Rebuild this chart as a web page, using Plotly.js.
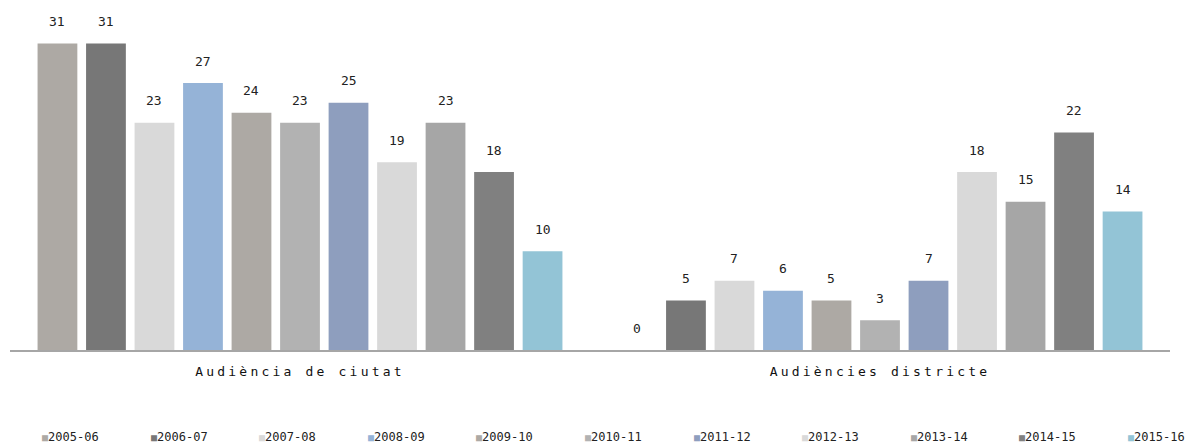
<!DOCTYPE html>
<html><head><meta charset="utf-8">
<script src="https://cdn.plot.ly/plotly-3.0.1.min.js"></script>
<style>
body{margin:0;background:#fff}
.xtick text{letter-spacing:3.2px}
</style>
</head><body>
<div id="chart" style="width:1187px;height:447px"></div>
<script>
const categories = ["Audiència de ciutat", "Audiències districte"];
const seasons = ["2005-06","2006-07","2007-08","2008-09","2009-10","2010-11","2011-12","2012-13","2013-14","2014-15","2015-16"];
const ciutat =    [31, 31, 23, 27, 24, 23, 25, 19, 23, 18, 10];
const districte = [0, 5, 7, 6, 5, 3, 7, 18, 15, 22, 14];
const colors = ["#ADA9A4","#777777","#D9D9D9","#95B3D7","#ADA9A4","#B2B2B2","#8E9EBE","#D9D9D9","#A6A6A6","#808080","#93C4D6"];

const W = 1187, H = 447, M = {l: 10, r: 17, t: 4, b: 97};
const plotW = W - M.l - M.r, plotH = H - M.t - M.b;
const bargap = 0.08, n = seasons.length;
const slot = plotW / categories.length * (1 - bargap) / n;

const traces = seasons.map((s, i) => ({
  type: 'bar',
  name: s,
  x: categories,
  y: [ciutat[i], districte[i]],
  marker: {color: colors[i]},
  hoverinfo: 'name+y',
  showlegend: false
}));

const annotations = [];
seasons.forEach((s, i) => {
  [ciutat[i], districte[i]].forEach((v, j) => {
    annotations.push({
      x: categories[j], y: v, xref: 'x', yref: 'y',
      text: String(v), showarrow: false,
      xshift: (i - (n - 1) / 2) * slot, yshift: 22, yanchor: 'middle',
      font: {family: 'DejaVu Sans Mono', size: 13, color: '#222'}
    });
  });
});
// legend row
const legendStart = 40, legendStep = 108.6, legendY = 437;
seasons.forEach((s, i) => {
  annotations.push({
    x: (legendStart + i * legendStep - M.l) / plotW, y: (plotH + M.t - legendY) / plotH,
    xref: 'paper', yref: 'paper', xanchor: 'left', yanchor: 'middle', showarrow: false,
    text: `<span style="color:${colors[i]};font-size:10px">■</span>${s}`,
    font: {family: 'DejaVu Sans Mono', size: 12, color: '#222'}
  });
});

const layout = {
  width: W, height: H,
  margin: M,
  barmode: 'group',
  bargap: bargap,
  bargroupgap: 0.18,
  showlegend: false,
  annotations: annotations,
  xaxis: {showline: true, linecolor: '#A6A6A6', linewidth: 1.5, ticks: '', ticklabelstandoff: 9,
          tickfont: {family: 'DejaVu Sans Mono', size: 13, color: '#111'}, showgrid: false},
  yaxis: {range: [0, 35], visible: false, showgrid: false, zeroline: false},
  plot_bgcolor: '#fff', paper_bgcolor: '#fff'
};
Plotly.newPlot('chart', traces, layout, {displayModeBar: false});
</script>
</body></html>
